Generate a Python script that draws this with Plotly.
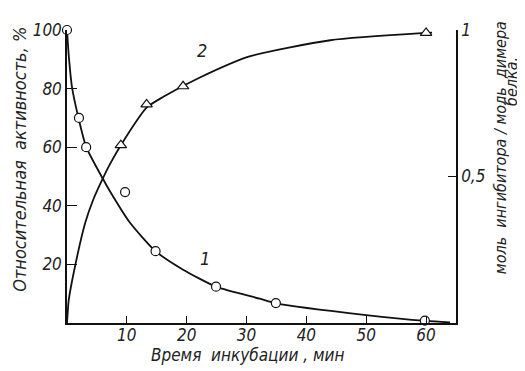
import plotly.graph_objects as go

# Curve 1: relative activity, % (left axis)
act_pts_x = [0, 2, 3.2, 9.7, 14.8, 24.9, 34.9, 59.8]
act_pts_y = [100, 70, 60, 44.7, 24.5, 12.4, 6.8, 0.8]
act_line_x = [0, 0.28, 0.84, 1.95, 3.2, 5.97, 7.2, 10.5, 14.8, 19.4, 25, 32.2, 35, 50, 60, 64]
act_line_y = [100, 91.6, 80.4, 69.7, 60.1, 49.3, 44.9, 34.3, 24.5, 18.2, 12.3, 8.3, 6.7, 2.7, 0.7, 0.2]

# Curve 2: mol inhibitor / mol protein dimer (right axis)
inh_pts_x = [9, 13.3, 19.4, 60]
inh_pts_y = [0.607, 0.746, 0.808, 0.99]
inh_line_x = [0, 0.1, 0.28, 1.4, 3.06, 4.46, 5.97, 7.2, 9, 13.3, 16.1, 22.2, 30.5, 44, 60, 61]
inh_line_y = [0.0, 0.03, 0.077, 0.199, 0.343, 0.425, 0.493, 0.543, 0.607, 0.735, 0.772, 0.838, 0.91, 0.965, 0.99, 0.991]

left_ticks = [20, 40, 60, 80, 100]
right_ticks = [0.5, 1]
right_labels = ["0,5", "1"]
x_ticks = [10, 20, 30, 40, 50, 60]

FONT = "DejaVu Sans Condensed"
fnt = dict(family=FONT, size=17, color="#222", style="italic")

fig = go.Figure()
fig.add_trace(go.Scatter(x=act_line_x, y=act_line_y, mode="lines",
                         line=dict(color="#111", width=1.8, shape="spline", smoothing=0.6), yaxis="y"))
fig.add_trace(go.Scatter(x=inh_line_x, y=inh_line_y, mode="lines",
                         line=dict(color="#111", width=1.8, shape="spline", smoothing=0.6), yaxis="y2"))
fig.add_trace(go.Scatter(x=act_pts_x, y=act_pts_y, mode="markers",
                         marker=dict(symbol="circle", size=9, color="white", line=dict(color="#111", width=1.2)),
                         yaxis="y", cliponaxis=False))
fig.add_trace(go.Scatter(x=inh_pts_x, y=inh_pts_y, mode="markers",
                         marker=dict(symbol="triangle-up", size=10, color="white", line=dict(color="#111", width=1.2)),
                         yaxis="y2", cliponaxis=False))

fig.update_layout(
    width=517, height=363,
    margin=dict(l=59, r=69, t=15, b=48),
    paper_bgcolor="white", plot_bgcolor="white",
    showlegend=False,
    xaxis=dict(range=[0, 65], showline=True, linecolor="#111", linewidth=1.5, ticks="inside", ticklen=7,
               tickcolor="#111", tickvals=x_ticks, showgrid=False, zeroline=False, tickfont=fnt,
               ticklabelstandoff=-4),
    yaxis=dict(range=[0, 100], showline=True, linecolor="#111", linewidth=1.5, ticks="inside", ticklen=10,
               tickcolor="#111", tickvals=left_ticks, showgrid=False, zeroline=False, tickfont=fnt),
    yaxis2=dict(range=[0, 1], overlaying="y", side="right", showline=True, linecolor="#111", linewidth=1.5,
                ticks="inside", ticklen=8, tickcolor="#111", tickvals=right_ticks, ticktext=right_labels,
                showgrid=False, zeroline=False, tickfont=fnt),
)

ann = dict(xref="paper", yref="paper", showarrow=False, xanchor="center", yanchor="middle")
fig.add_annotation(text="Относительная  активность, %", x=-0.121, y=0.56, textangle=-90,
                   font=dict(family=FONT, size=18, color="#222", style="italic"), **ann)
fig.add_annotation(text="моль  ингибитора / моль  димера", x=1.113, y=0.6, textangle=-90,
                   font=dict(family=FONT, size=16, color="#222", style="italic"), **ann)
fig.add_annotation(text="белка.", x=1.144, y=0.823, textangle=-90,
                   font=dict(family=FONT, size=16, color="#222", style="italic"), **ann)
fig.add_annotation(text="Время  инкубации , мин", x=0.463, y=-0.108,
                   font=dict(family=FONT, size=17, color="#222", style="italic"), **ann)
fig.add_annotation(text="2", x=22.5, y=93, xref="x", yref="y", showarrow=False,
                   font=dict(family=FONT, size=18, color="#222", style="italic"))
fig.add_annotation(text="1", x=23, y=22, xref="x", yref="y", showarrow=False,
                   font=dict(family=FONT, size=18, color="#222", style="italic"))

fig.write_html("out.html")
